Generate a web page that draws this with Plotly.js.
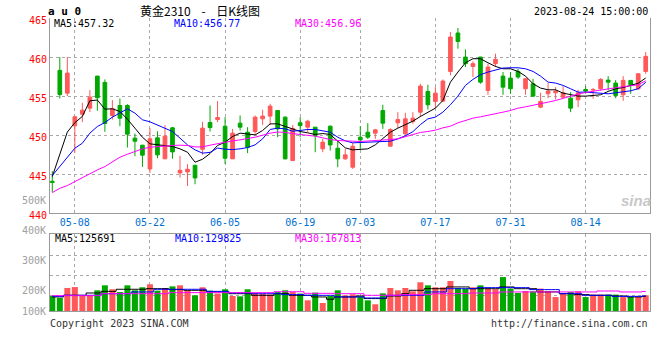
<!DOCTYPE html>
<html><head><meta charset="utf-8">
<script src="https://cdn.plot.ly/plotly-3.0.1.min.js"></script>
<style>html,body{margin:0;padding:0;background:#fff;}#chart{width:660px;height:360px;}</style>
</head><body><div id="chart"></div>
<script>
// ---------- data ----------
const dates = ['04-28','05-04','05-05','05-08','05-09','05-10','05-11','05-12','05-15','05-16','05-17','05-18','05-19',
'05-22','05-23','05-24','05-25','05-26','05-29','05-30','05-31','06-01','06-02','06-05','06-06','06-07','06-08','06-09',
'06-12','06-13','06-14','06-15','06-16','06-19','06-20','06-21','06-26','06-27','06-28','06-29','06-30','07-03','07-04',
'07-05','07-06','07-07','07-10','07-11','07-12','07-13','07-14','07-17','07-18','07-19','07-20','07-21','07-24','07-25',
'07-26','07-27','07-28','07-31','08-01','08-02','08-03','08-04','08-07','08-08','08-09','08-10','08-11','08-14','08-15',
'08-16','08-17','08-18','08-21','08-22','08-23','08-24'];

const open = [444.1,458.3,455.38,451.2,452.69,453.46,457.56,456.75,452.52,453.8,453.8,449.62,448.72,445.68,449.66,446.97,
450.94,445.17,445.3,446.15,448.2,451.62,452.0,451.15,446.97,451.54,450.38,450.47,452.09,452.44,453.16,452.31,446.75,451.58,
451.03,451.03,448.25,451.15,448.33,446.97,445.9,449.74,450.38,450.26,453.16,448.59,451.58,450.17,451.75,452.95,455.6,454.32,
454.36,458.16,463.08,460.0,458.8,460.0,455.73,459.15,457.56,457.31,458.16,455.94,456.58,453.59,455.3,455.43,454.87,454.74,
454.53,455.85,455.77,455.94,457.05,456.67,455.17,457.01,455.94,458.16];
const high = [445.4,460.0,460.0,452.4,454.15,455.77,457.6,457.14,454.49,454.7,453.97,450.21,448.75,450.9,450.51,451.28,
451.07,447.35,446.28,446.2,451.71,453.8,454.36,452.31,450.81,452.52,451.03,452.52,453.25,454.02,453.2,452.4,451.3,452.31,
451.97,451.05,449.53,451.24,449.32,448.25,449.0,451.15,451.54,450.81,453.89,450.9,452.95,452.86,452.95,456.58,456.45,456.15,
457.14,463.2,463.72,460.98,459.44,460.02,459.15,460.43,458.08,458.08,458.5,457.31,457.22,455.43,456.67,456.15,456.28,455.51,
455.81,456.28,456.03,457.31,457.56,457.05,457.56,457.05,457.95,460.64];
const low = [442.7,454.7,455.0,447.74,451.67,452.95,453.12,450.43,452.0,451.15,448.42,447.31,445.94,445.17,447.05,446.95,
447.0,444.57,443.5,443.72,447.5,450.47,451.67,446.32,446.95,450.6,447.7,450.17,451.32,451.32,449.74,446.9,446.7,449.74,
450.38,447.82,447.82,448.03,445.9,446.84,445.68,448.25,449.53,449.53,450.81,448.55,450.9,449.96,451.45,452.31,453.29,453.46,
454.23,457.65,461.07,458.72,457.44,456.58,455.17,458.72,455.17,455.3,457.22,455.17,454.87,453.46,454.74,454.57,454.74,452.95,
453.59,455.3,454.66,455.73,455.73,454.74,454.4,455.3,455.81,457.86];
const close = [443.95,455.2,457.95,452.35,453.2,454.87,454.79,451.5,453.38,452.18,450.13,449.23,447.44,449.53,447.48,449.87,
447.86,445.5,445.64,444.53,450.9,450.97,452.26,447.05,450.26,451.03,448.46,452.31,452.44,453.72,450.81,446.97,450.87,451.23,
451.79,449.96,449.1,448.75,446.97,447.48,448.58,449.4,449.74,450.68,451.54,450.72,452.0,452.09,452.18,456.28,453.89,455.38,
456.92,462.56,462.0,459.15,459.15,456.79,458.72,459.7,456.15,455.94,457.44,457.22,455.0,454.32,455.64,455.64,455.43,453.46,
455.43,455.64,455.85,457.14,456.79,455.09,457.01,456.45,457.86,460.09];

const ma5 = [444.7,447.6,450.4,451.6,452.4,454.4,454.5,453.33,453.38,453.03,452.05,450.9,449.74,448.89,448.76,448.72,448.55,
448.25,447.82,446.54,446.92,447.65,448.68,449.1,449.83,450.26,450.13,450.04,450.6,451.45,451.45,451.15,450.77,450.47,450.3,
450.09,450.21,450.09,449.23,448.38,448.12,448.16,448.25,448.76,449.53,450.38,450.9,451.37,451.79,452.39,452.95,453.46,454.44,
456.79,458.08,459.27,459.79,459.79,459.27,458.8,458.5,458.5,458.16,457.56,456.58,456.03,455.81,455.81,455.38,455.17,455.0,
455.0,455.04,455.17,455.6,455.94,456.1,456.4,456.65,457.32];
const ma10 = [444.83,445.98,447.05,448.33,448.97,450.26,451.11,451.62,452.31,452.82,453.38,452.82,451.97,451.71,451.32,450.9,
450.47,449.62,448.76,448.12,447.7,447.8,448.35,448.2,448.16,448.25,448.42,448.76,449.53,450.73,450.9,450.81,450.51,450.6,
450.73,450.73,450.6,450.38,449.74,449.27,449.02,449.06,449.15,449.19,449.19,449.23,449.53,449.92,450.45,451.35,452.09,452.31,
452.95,453.89,455.0,456.37,457.14,457.74,458.08,458.38,458.59,458.63,458.63,458.5,458.16,457.56,456.79,456.67,456.37,455.94,
455.51,455.51,455.43,455.3,455.3,455.43,455.51,455.68,455.95,456.77];
const ma30 = [442.65,443.2,443.55,444.06,444.49,445.04,445.56,445.98,446.62,447.18,447.56,447.91,448.25,448.46,448.55,448.59,
448.68,448.72,448.68,448.5,448.5,448.72,448.93,449.1,449.27,449.4,449.53,449.74,450.0,450.26,450.4,450.35,450.2,450.09,450.0,
449.87,449.66,449.44,449.32,449.23,449.23,449.19,449.23,449.32,449.4,449.44,449.53,449.8,450.1,450.35,450.47,450.64,450.94,
451.15,451.58,451.92,452.18,452.35,452.52,452.74,452.95,453.16,453.46,453.63,453.85,454.1,454.23,454.44,454.74,455.0,455.26,
455.47,455.64,455.81,455.94,456.07,456.2,456.32,456.45,456.96];

const volume = [129000,112000,198000,206000,135000,135000,178000,221000,187000,163000,221000,178000,204000,230000,175000,
198000,212000,221000,178000,135000,204000,175000,150000,187000,129000,126000,187000,155000,146000,141000,163000,178000,
163000,150000,92000,158000,69000,129000,178000,135000,144000,126000,92000,58000,152000,198000,178000,198000,169000,247000,
221000,204000,204000,258000,198000,193000,204000,221000,193000,187000,292000,193000,155000,172000,169000,193000,169000,
120000,150000,163000,169000,120000,141000,141000,141000,141000,120000,120000,120000,135000];
const volMa5 = [121000,121000,135000,135000,135000,155000,155000,169000,169000,187000,187000,187000,187000,192000,192000,
192000,184000,184000,178000,178000,178000,164000,164000,164000,149000,149000,149000,135000,135000,135000,149000,149000,
135000,135000,135000,121000,121000,101000,121000,121000,121000,129000,107000,107000,107000,129000,129000,149000,178000,
178000,192000,192000,192000,207000,207000,207000,192000,192000,192000,192000,207000,207000,192000,192000,192000,164000,
164000,164000,149000,149000,141000,141000,135000,135000,135000,129000,129000,121000,121000,125691];
const volMa10 = [126000,126000,135000,135000,135000,135000,135000,149000,149000,149000,149000,164000,164000,164000,187000,
187000,187000,187000,187000,187000,187000,169000,169000,169000,155000,155000,155000,149000,149000,149000,149000,141000,
141000,141000,135000,135000,135000,135000,121000,121000,121000,121000,112000,112000,112000,135000,135000,135000,135000,
135000,164000,164000,164000,192000,192000,192000,192000,201000,201000,201000,201000,201000,201000,201000,184000,184000,
184000,184000,149000,149000,149000,135000,135000,135000,135000,126000,126000,126000,126000,129825];
const volMa30 = [132000,132000,132000,132000,132000,132000,132000,149000,149000,149000,149000,149000,149000,149000,149000,
149000,158000,158000,158000,158000,158000,158000,158000,158000,158000,158000,158000,158000,158000,158000,166000,166000,
166000,166000,152000,152000,152000,152000,149000,149000,149000,149000,135000,135000,135000,135000,135000,141000,141000,
141000,141000,149000,149000,149000,149000,149000,155000,155000,155000,155000,164000,164000,164000,164000,164000,164000,
164000,164000,164000,164000,164000,164000,164000,172000,172000,172000,164000,164000,164000,167813];

const tickDates = ['05-08','05-22','06-05','06-19','07-03','07-17','07-31','08-14'];
const priceTicks = [440,445,450,455,460,465];
const volLabels = ['500K','400K','300K','200K','100K'];

// ---------- styling / layout ----------
const RED = '#ff5858', GREEN = '#00a800', GRID = '#a8a8a8', FRAME = '#9a9a9a';
const MONO = 'DejaVu Sans Mono';
const W = 660, H = 360, ML = 50, MR = 10, MT = 18, MB = 49;
const plotW = W - ML - MR, plotH = H - MT - MB;
const px = x => (x - ML) / plotW;
const py = y => (H - MB - y) / plotH;
const last = a => a[a.length - 1];

const volColors = close.map((c, i) => c >= open[i] ? RED : GREEN);

const traces = [
  {type:'candlestick', x:dates, open:open, high:high, low:low, close:close, xaxis:'x', yaxis:'y',
   increasing:{line:{color:RED, width:1}, fillcolor:RED},
   decreasing:{line:{color:GREEN, width:1}, fillcolor:GREEN},
   whiskerwidth:0, hoverinfo:'skip', showlegend:false},
  {type:'scatter', mode:'lines', x:dates, y:ma5, line:{color:'#000000', width:1}, xaxis:'x', yaxis:'y', hoverinfo:'skip', showlegend:false},
  {type:'scatter', mode:'lines', x:dates, y:ma10, line:{color:'#0000ff', width:1}, xaxis:'x', yaxis:'y', hoverinfo:'skip', showlegend:false},
  {type:'scatter', mode:'lines', x:dates, y:ma30, line:{color:'#ff00ff', width:1}, xaxis:'x', yaxis:'y', hoverinfo:'skip', showlegend:false},
  {type:'bar', x:dates, y:volume, marker:{color:volColors, line:{width:0}}, xaxis:'x2', yaxis:'y2', hoverinfo:'skip', showlegend:false},
  {type:'scatter', mode:'lines', x:dates, y:volMa5, line:{color:'#000000', width:1, shape:'hvh'}, xaxis:'x2', yaxis:'y2', hoverinfo:'skip', showlegend:false},
  {type:'scatter', mode:'lines', x:dates, y:volMa10, line:{color:'#0000ff', width:1, shape:'hvh'}, xaxis:'x2', yaxis:'y2', hoverinfo:'skip', showlegend:false},
  {type:'scatter', mode:'lines', x:dates, y:volMa30, line:{color:'#ff00ff', width:1, shape:'hvh'}, xaxis:'x2', yaxis:'y2', hoverinfo:'skip', showlegend:false}
];

const xr = [-0.306, dates.length - 1 + 0.57];
function ann(text, x, y, color, anchor, size, extra) {
  return Object.assign({text:text, xref:'paper', yref:'paper', x:px(x), y:py(y), xanchor:anchor, yanchor:'middle',
    showarrow:false, borderpad:0, font:{family:MONO, size:size || 10, color:color}}, extra || {});
}
const volLabelY = [200.7, 231, 260, 290.7, 311];
const NB = '\u00a0\u00a0\u00a0\u00a0';

const annotations = [
  ann('<b>a u 0</b>', 47, 12, '#000', 'left', 11),
  ann('黄金2310' + NB + '-' + NB + '日K线图', 200, 10, '#000', 'center', 12, {font:{family:'Noto Sans CJK SC', size:12, color:'#000'}}),
  ann('2023-08-24 15:00:00', 649, 12, '#000', 'right', 10),
  ann('MA5:' + last(ma5).toFixed(2), 53, 23.7, '#000000', 'left', 10),
  ann('MA10:' + last(ma10).toFixed(2), 173, 23.7, '#0000ff', 'left', 10),
  ann('MA30:' + last(ma30).toFixed(2), 294, 23.7, '#ff00ff', 'left', 10),
  ann('MA5:' + last(volMa5), 54, 238.7, '#000000', 'left', 10),
  ann('MA10:' + last(volMa10), 174, 238.7, '#0000ff', 'left', 10),
  ann('MA30:' + last(volMa30), 294, 238.7, '#ff00ff', 'left', 10),
  ann('Copyright 2023 SINA.COM', 49, 323.5, '#333333', 'left', 10),
  ann('http://finance.sina.com.cn', 649, 323.5, '#333333', 'right', 10),
  ann('<b><i>sina</i></b>', 636, 200, '#cccccc', 'center', 15, {font:{family:'Liberation Sans', size:15, color:'#c8c8c8'}})
].concat(volLabels.map((t, i) => ann(t, 47, volLabelY[i], '#a0a0a0', 'right', 10)));

const layout = {
  width:W, height:H, margin:{l:ML, r:MR, t:MT, b:MB, pad:0},
  paper_bgcolor:'#ffffff', plot_bgcolor:'#ffffff', showlegend:false,
  boxgap:0.3, bargap:0.2,
  font:{family:MONO, size:10, color:'#000'},
  xaxis:{type:'category', domain:[0,1], anchor:'y', range:xr, tickmode:'array', tickvals:tickDates, ticktext:tickDates,
    showgrid:true, gridcolor:GRID, griddash:'dot', gridwidth:1, showline:true, linecolor:FRAME, linewidth:1, mirror:false,
    ticks:'', zeroline:false, rangeslider:{visible:false}, tickfont:{family:MONO, size:10, color:'#0070d0'}, fixedrange:true},
  yaxis:{domain:[py(213.3), 1], anchor:'x', range:[440, 465], tickmode:'array', tickvals:priceTicks,
    ticktext:priceTicks.map(String), showgrid:true, gridcolor:GRID, griddash:'dot', gridwidth:1, showline:true,
    linecolor:FRAME, linewidth:1, mirror:true, ticks:'', zeroline:false, ticklabelshift:2,
    tickfont:{family:MONO, size:10, color:'#ff0000'}, fixedrange:true},
  xaxis2:{type:'category', domain:[0,1], anchor:'y2', range:xr, tickmode:'array', tickvals:tickDates,
    showticklabels:false, showgrid:true, gridcolor:GRID, griddash:'dot', gridwidth:1, showline:true, linecolor:FRAME,
    linewidth:1, mirror:true, ticks:'', zeroline:false, fixedrange:true},
  yaxis2:{domain:[0, py(234.3)], anchor:'x2', range:[0, 660000], tickmode:'array', tickvals:[137600, 309600, 481600],
    showticklabels:false, showgrid:true, gridcolor:GRID, griddash:'dot', gridwidth:1, showline:true, linecolor:FRAME,
    linewidth:1, mirror:true, ticks:'', zeroline:false, fixedrange:true},
  annotations:annotations
};

Plotly.newPlot('chart', traces, layout, {displayModeBar:false, staticPlot:true});
</script>
</body></html>
